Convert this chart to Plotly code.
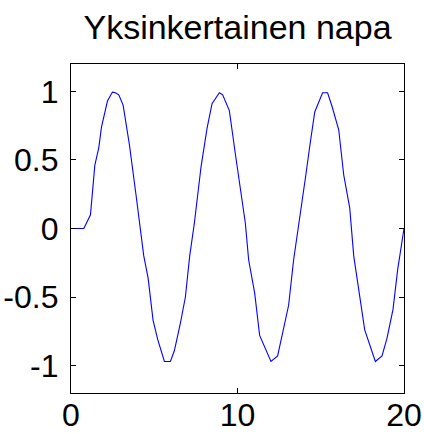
import plotly.graph_objects as go

# Step response samples of the simple-pole system
t = [0, 0.77, 1.17, 1.43, 1.67, 1.83, 2.19, 2.49, 2.67, 2.87, 3.13, 3.51, 3.9,
     4.37, 4.63, 4.93, 5.21, 5.61, 5.97, 6.21, 6.57, 6.87, 7.13, 7.41, 7.81,
     8.17, 8.47, 8.91, 9.11, 9.51, 9.9, 10.47, 10.67, 11.03, 11.33, 11.77,
     12.01, 12.41, 12.67, 13.07, 13.37, 13.67, 14.08, 14.38, 14.64, 15.11,
     15.41, 15.68, 16.08, 16.38, 16.74, 16.98, 17.32, 17.64, 18.28, 18.68,
     18.98, 19.34, 19.62, 20]
y = [0, 0, 0.10, 0.46, 0.59, 0.74, 0.93, 0.995, 0.99, 0.975, 0.90, 0.61, 0.25,
     -0.20, -0.36, -0.67, -0.81, -0.97, -0.97, -0.89, -0.69, -0.50, -0.20, 0.04,
     0.45, 0.73, 0.91, 0.99, 0.975, 0.86, 0.52, 0.04, -0.23, -0.47, -0.78,
     -0.91, -0.97, -0.93, -0.78, -0.56, -0.23, 0.04, 0.37, 0.635, 0.85, 0.99,
     0.99, 0.89, 0.72, 0.39, 0.15, -0.20, -0.47, -0.74, -0.97, -0.93, -0.80,
     -0.59, -0.30, 0.0]

x_ticks = [0, 10, 20]
x_tick_text = ["0", "10", "20"]
y_ticks = [-1, -0.5, 0, 0.5, 1]
y_tick_text = ["-1", "-0.5", "0", "0.5", "1"]

title_text = "Yksinkertainen napa"

font_family = "Liberation Sans, Arial, sans-serif"

fig = go.Figure()
fig.add_trace(go.Scatter(x=t, y=y, mode="lines",
                         line=dict(color="#0000ff", width=1.1),
                         showlegend=False))

axis_common = dict(
    showgrid=False, zeroline=False, automargin=False,
    showline=True, linecolor="black", linewidth=1.3, mirror="ticks",
    ticks="inside", ticklen=5, tickwidth=1, tickcolor="black",
    tickfont=dict(family=font_family, size=32, color="black"),
)

fig.update_xaxes(range=[0, 20], tickvals=x_ticks, ticktext=x_tick_text,
                 ticklabelstandoff=-7, **axis_common)
fig.update_yaxes(range=[-1.2, 1.2], tickvals=y_ticks, ticktext=y_tick_text,
                 ticklabelstandoff=5, **axis_common)

fig.update_layout(
    width=424, height=434,
    margin=dict(l=70.5, r=20.3, t=64.3, b=40.7, autoexpand=False),
    paper_bgcolor="white", plot_bgcolor="white",
    title=dict(text=title_text, x=0.5, xref="paper", xanchor="center",
               y=1 - 27 / 434, yref="container", yanchor="middle",
               font=dict(family=font_family, size=34, color="black")),
)

fig.write_html("out.html")
